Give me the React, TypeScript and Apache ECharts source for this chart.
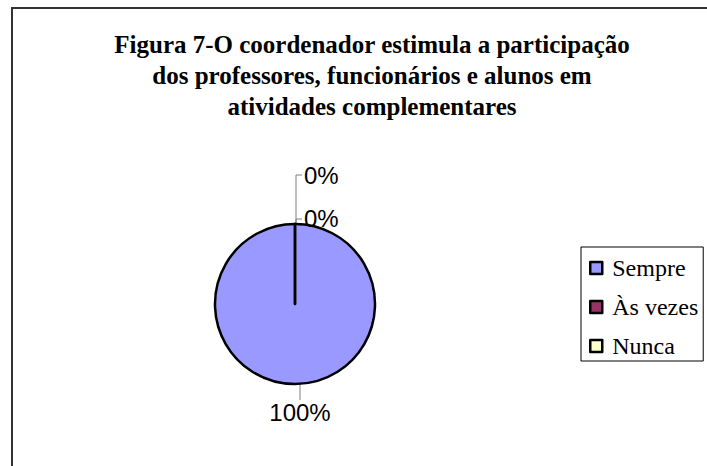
import React, { useEffect, useRef } from "react";
import * as echarts from "echarts";

const titleLines = [
  "Figura 7-O coordenador estimula a participação",
  "dos professores, funcionários e alunos em",
  "atividades complementares",
];
const categories = ["Sempre", "Às vezes", "Nunca"];
const values = [100, 0, 0];
const colors = ["#9999FF", "#993366", "#FFFFCC"];

export default function App() {
  const ref = useRef<HTMLDivElement>(null);
  useEffect(() => {
    if (!ref.current) return;
    const chart = echarts.init(ref.current, undefined, { renderer: "svg" });
    const data = categories.map((name, i) => ({
      name,
      value: values[i],
      itemStyle: { color: colors[i] },
    }));
    chart.setOption({
      animation: false,
      backgroundColor: "#ffffff",
      graphic: [
        {
          type: "rect",
          shape: { x: 12, y: 8, width: 720, height: 480 },
          style: { fill: "none", stroke: "#333333", lineWidth: 2 },
          silent: true,
        },
        {
          type: "text",
          x: 372,
          y: 29,
          silent: true,
          style: {
            text: titleLines.join("\n"),
            textAlign: "center",
            textVerticalAlign: "top",
            fontFamily: "Liberation Serif",
            fontWeight: "bold",
            fontSize: 25,
            lineHeight: 31,
            fill: "#000000",
          },
        },
      ],
      legend: {
        orient: "vertical",
        left: 581,
        top: 247,
        padding: [9, 5, 3, 8],
        itemGap: 15,
        itemWidth: 12,
        itemHeight: 12,
        icon: "rect",
        borderColor: "#000000",
        borderWidth: 1,
        itemStyle: { borderColor: "#000000", borderWidth: 2.5 },
        textStyle: {
          fontFamily: "Liberation Serif",
          fontSize: 24,
          lineHeight: 24,
          color: "#000000",
          padding: [0, 0, 0, 5],
        },
        data: categories,
      },
      series: [
        {
          type: "pie",
          center: [295, 304],
          radius: 80,
          startAngle: 90,
          clockwise: true,
          avoidLabelOverlap: false,
          stillShowZeroSum: true,
          minShowLabelAngle: 0,
          itemStyle: { borderColor: "#000000", borderWidth: 2.5 },
          label: {
            show: true,
            formatter: "{d}%",
            fontFamily: "Liberation Sans",
            fontSize: 24,
            color: "#000000",
          },
          labelLine: {
            show: true,
            lineStyle: { color: "#808080", width: 1 },
          },
          labelLayout: (params: any) => {
            if (params.dataIndex === 0) {
              return { x: 300, y: 412, align: "center", verticalAlign: "middle" };
            }
            if (params.dataIndex === 1) {
              return {
                x: 304,
                y: 175,
                align: "left",
                verticalAlign: "middle",
                labelLinePoints: [
                  [296, 224],
                  [296, 175],
                  [302, 175],
                ],
              };
            }
            return {
              x: 304,
              y: 218,
              align: "left",
              verticalAlign: "middle",
              labelLinePoints: [
                [296, 224],
                [296, 219],
                [302, 219],
              ],
            };
          },
          data,
        },
      ],
    });
    return () => chart.dispose();
  }, []);
  return (
    <div
      ref={ref}
      style={{ position: "fixed", left: 0, top: 0, width: 707, height: 466 }}
    />
  );
}
